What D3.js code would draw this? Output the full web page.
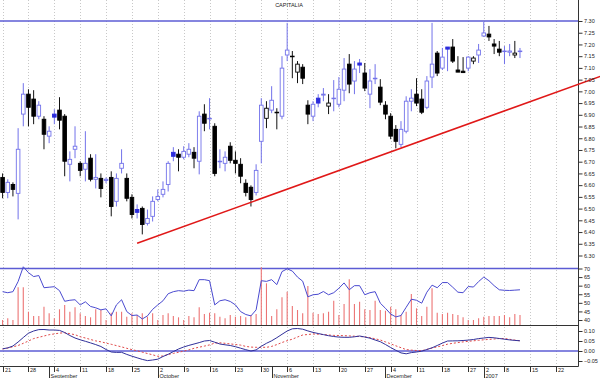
<!DOCTYPE html>
<html>
<head>
<meta charset="utf-8">
<script src="https://cdn.jsdelivr.net/npm/d3@7"></script>
<style>
  body { margin: 0; background: #fff; }
  svg { display: block; font-family: "Liberation Sans", Arial, sans-serif; }
</style>
</head>
<body>
<div id="chart"></div>
<script>
// CAPITALIA daily candles, 21 Aug 2006 - 11 Jan 2007
const open = [6.633,6.569,6.603,6.565,6.903,6.988,6.967,6.894,6.881,6.809,6.903,6.920,6.894,6.689,6.753,6.693,6.668,6.715,6.625,6.629,6.620,6.633,6.531,6.672,6.629,6.548,6.496,6.501,6.437,6.467,6.539,6.561,6.603,6.740,6.732,6.719,6.732,6.740,6.702,6.903,6.885,6.851,6.702,6.693,6.766,6.706,6.689,6.608,6.591,6.569,6.787,6.885,6.920,6.911,6.894,7.155,7.150,7.082,7.103,6.941,6.894,6.971,6.984,6.937,6.971,6.945,7.005,7.116,7.044,7.121,7.078,6.988,7.056,7.018,6.941,6.894,6.838,6.774,6.830,6.958,6.988,6.967,6.932,7.061,7.163,7.099,7.189,7.189,7.091,7.086,7.099,7.129,7.155,7.236,7.244,7.202,7.180,7.172,7.167,7.155,7.172];
const high = [6.650,6.625,6.612,6.843,7.035,7.009,7.005,6.958,6.894,6.851,6.924,6.975,6.903,6.744,6.851,6.702,6.830,6.732,6.732,6.650,6.633,6.659,6.650,6.753,6.650,6.561,6.518,6.509,6.496,6.552,6.582,6.616,6.702,6.762,6.753,6.766,6.779,6.762,6.915,6.945,6.971,6.864,6.753,6.744,6.783,6.744,6.715,6.625,6.599,6.689,6.971,6.958,7.022,6.928,7.150,7.292,7.172,7.129,7.116,6.962,6.958,6.988,7.014,6.988,7.048,7.061,7.142,7.159,7.129,7.138,7.121,7.095,7.116,7.052,6.958,6.907,6.856,6.873,6.979,7.009,7.056,7.009,7.065,7.292,7.172,7.185,7.189,7.223,7.150,7.146,7.150,7.150,7.202,7.296,7.279,7.223,7.215,7.193,7.202,7.215,7.185];
const low = [6.544,6.544,6.552,6.454,6.851,6.851,6.860,6.881,6.753,6.779,6.860,6.838,6.638,6.616,6.715,6.638,6.616,6.616,6.586,6.548,6.608,6.467,6.509,6.650,6.531,6.458,6.458,6.390,6.428,6.445,6.531,6.548,6.573,6.702,6.659,6.710,6.719,6.672,6.646,6.830,6.838,6.638,6.672,6.659,6.693,6.650,6.608,6.552,6.509,6.556,6.693,6.843,6.907,6.838,6.881,7.129,7.056,7.035,7.031,6.860,6.873,6.932,6.958,6.903,6.915,6.932,6.958,6.992,6.988,7.078,7.001,6.928,7.031,6.941,6.881,6.796,6.757,6.762,6.821,6.915,6.937,6.903,6.924,7.014,7.065,7.091,7.086,7.121,7.082,7.078,7.086,7.116,7.121,7.232,7.215,7.159,7.150,7.116,7.150,7.142,7.142];
const close = [6.569,6.612,6.582,6.753,6.988,6.932,6.894,6.941,6.817,6.830,6.890,6.877,6.702,6.710,6.766,6.663,6.693,6.625,6.633,6.586,6.625,6.509,6.629,6.693,6.544,6.475,6.484,6.432,6.458,6.531,6.552,6.582,6.693,6.723,6.719,6.744,6.753,6.715,6.894,6.864,6.885,6.650,6.702,6.719,6.706,6.693,6.638,6.569,6.539,6.663,6.941,6.928,6.962,6.911,7.099,7.176,7.150,7.116,7.056,6.903,6.945,6.950,6.988,6.950,6.971,7.009,7.095,7.031,7.095,7.112,7.014,7.044,7.056,6.954,6.903,6.809,6.787,6.838,6.958,6.971,6.950,6.911,7.044,7.116,7.078,7.146,7.180,7.129,7.082,7.080,7.146,7.142,7.176,7.249,7.232,7.193,7.167,7.172,7.172,7.163,7.172];
// volume, millions of shares
const volume = [5,6.7,5,37.7,37.7,13.3,9,9,18.3,11.7,6.7,15.7,20,13.3,17.7,11.7,9,7.7,15.7,15,5,12.3,13.3,13.3,8.3,11.7,10,11.7,8.3,11.7,5,10,11.7,9,7.7,5,9,7.7,17.7,11,12.3,11.7,8.3,6.7,10,8.3,9,7.7,10,11,57.7,41.7,9,15.7,27.7,33.3,19,15,11.7,39,12.3,11,11.7,13.3,24.3,10,21,45.7,21,23.3,15.7,15,24.3,15,14.3,18.3,15.7,10,13.3,31,16.7,9,18.3,36.7,12.3,11,12.3,11,10,7.7,5,5,6.7,8.3,9,9,9,10,7.7,11,10];
const rsi = [56.5,55.9,56.5,62.4,71.0,67.6,65.3,65.9,58.8,59.1,59.4,57.1,50.9,51.5,51.8,48.8,50.6,47.9,47.1,45.9,46.5,42.4,48.8,51.8,44.9,42.6,42.9,40.6,42.4,46.2,48.8,51.2,55.3,56.5,57.1,56.8,57.4,57.1,63.5,63.5,62.9,48.8,51.2,51.8,50.8,48.8,44.9,43.2,42.4,45.9,62.9,62.5,63.5,60.6,68.2,69.8,68.5,65.0,62.6,53.5,54.7,55.0,56.6,54.7,55.9,58.5,61.6,57.6,60.0,60.0,54.7,55.9,56.5,49.8,46.8,43.5,41.8,42.6,47.4,52.1,51.5,49.8,56.2,60.3,58.8,61.8,61.8,59.1,56.2,55.9,59.5,59.2,62.4,65.0,62.9,60.0,57.6,57.3,57.2,57.4,57.6];
const macd = [0.011,0.0155,0.025,0.045,0.0675,0.089,0.100,0.107,0.1075,0.105,0.105,0.103,0.0925,0.0775,0.065,0.056,0.0485,0.0405,0.032,0.0225,0.0075,-0.005,-0.007,-0.0065,-0.017,-0.026,-0.034,-0.042,-0.048,-0.045,-0.041,-0.0275,-0.0165,-0.003,0.010,0.020,0.028,0.035,0.042,0.050,0.0525,0.044,0.035,0.031,0.0275,0.0215,0.014,0.0065,0,0.0055,0.0235,0.0385,0.051,0.0665,0.0835,0.100,0.111,0.1125,0.109,0.1005,0.093,0.0875,0.082,0.0765,0.0725,0.0695,0.0685,0.0685,0.071,0.075,0.070,0.064,0.055,0.0465,0.0325,0.0175,0.0035,-0.0095,-0.014,-0.008,-0.005,-0.001,0.0075,0.016,0.0275,0.0395,0.050,0.0505,0.051,0.0525,0.0545,0.0575,0.062,0.065,0.068,0.066,0.0625,0.059,0.0555,0.053,0.051];
const signal = [0.010,0.015,0.021,0.0275,0.0385,0.050,0.062,0.0685,0.075,0.0815,0.0855,0.0895,0.091,0.0865,0.0815,0.0715,0.065,0.0575,0.0505,0.046,0.0395,0.0335,0.027,0.0205,0.0135,0.007,0.001,-0.006,-0.0125,-0.019,-0.0265,-0.025,-0.0175,-0.012,-0.0065,-0.0005,0.0055,0.0135,0.019,0.0245,0.0305,0.0395,0.041,0.0385,0.0355,0.0325,0.0295,0.023,0.0195,0.0185,0.0185,0.0185,0.023,0.032,0.0425,0.0515,0.059,0.070,0.080,0.0825,0.085,0.084,0.082,0.080,0.078,0.0775,0.0765,0.0755,0.074,0.0725,0.0705,0.067,0.061,0.055,0.0455,0.036,0.026,0.0165,0.007,0.0045,0.0025,0.0015,0.008,0.015,0.0205,0.027,0.034,0.0385,0.042,0.0455,0.0485,0.051,0.0535,0.056,0.058,0.060,0.0625,0.0625,0.0585,0.0545,0.051];

// support trendline: [day index, price]
const trendStart = [26, 6.352];
const trendEnd = [115.5, 7.064];
const resistance = 7.30;
const rsiLevel = 70;
const macdLevel = 0;

const holidays = ["2006-12-25", "2006-12-26", "2007-01-01"];
const monthNames = ["January","February","March","April","May","June","July","August","September","October","November","December"];

const width = 600, height = 378;
const plotRight = 578.5;
const fmtDay = d3.timeFormat("%Y-%m-%d");

// trading days through the right edge of the plot
const days = d3.timeDay.range(new Date(2006, 7, 21), new Date(2007, 0, 27))
  .filter(d => d.getDay() % 6 !== 0 && !holidays.includes(fmtDay(d)));

const x = d3.scaleLinear().domain([-0.5, days.length - 0.5]).range([0, 579.5]);
const yPrice = d3.scaleLinear().domain([6.30, 7.30]).range([255.5, 21]);
const yRsi = d3.scaleLinear().domain([40, 70]).range([320, 268.5]);
const yVol = d3.scaleLinear().domain([0, 58]).range([325, 267]);
const yMacd = d3.scaleLinear().domain([-0.05, 0.10]).range([361, 331]);

const blue = "#7272ea", blueFill = "#2c2cdc", levelBlue = "#5c5cd4";

const svg = d3.select("#chart").append("svg")
  .attr("width", width).attr("height", height);

// week / month boundaries
const weekStarts = days.map((d, i) => i).filter(i => i === 0 || +d3.timeMonday.floor(days[i]) !== +d3.timeMonday.floor(days[i - 1]));
const monthStarts = days.map((d, i) => i).filter(i => i > 0 && days[i].getMonth() !== days[i - 1].getMonth());

// dotted vertical grid
svg.append("g").selectAll("line").data(weekStarts).join("line")
  .attr("x1", i => Math.round(x(i)) + 0.5).attr("x2", i => Math.round(x(i)) + 0.5)
  .attr("y1", 0).attr("y2", 366)
  .attr("stroke", "#c8c8c8").attr("stroke-width", 1).attr("stroke-dasharray", "1,2");

// level lines
const levels = [yPrice(resistance), yRsi(rsiLevel), yMacd(macdLevel)];
svg.append("g").selectAll("line").data(levels).join("line")
  .attr("x1", 0).attr("x2", plotRight).attr("y1", d => d).attr("y2", d => d)
  .attr("stroke", levelBlue).attr("stroke-width", 1.5);

// panel separators
svg.append("line").attr("x1", 0).attr("x2", plotRight).attr("y1", 325.5).attr("y2", 325.5)
  .attr("stroke", "#333").attr("stroke-width", 1);
svg.append("line").attr("x1", 0).attr("x2", plotRight).attr("y1", 366.5).attr("y2", 366.5)
  .attr("stroke", "#333").attr("stroke-width", 1);
svg.append("line").attr("x1", plotRight).attr("x2", plotRight).attr("y1", 0).attr("y2", 366.5)
  .attr("stroke", "#333").attr("stroke-width", 1);

// title
svg.append("text").attr("x", 289).attr("y", 7).attr("text-anchor", "middle")
  .attr("font-size", 5.5).attr("fill", "#222").text("CAPITALIA");

// volume bars
svg.append("g").selectAll("line").data(volume).join("line")
  .attr("x1", (d, i) => x(i)).attr("x2", (d, i) => x(i))
  .attr("y1", yVol(0)).attr("y2", d => yVol(d))
  .attr("stroke", "#ec7474").attr("stroke-width", 1.1);

// candles
const candles = open.map((o, i) => ({
  i, o, h: high[i], l: low[i], c: close[i],
  up: i === 0 ? close[i] >= o : close[i] >= close[i - 1]
}));
const bodyW = 3.6;
const cg = svg.append("g").selectAll("g").data(candles).join("g");
cg.append("line")
  .attr("x1", d => x(d.i)).attr("x2", d => x(d.i))
  .attr("y1", d => yPrice(d.h)).attr("y2", d => yPrice(d.l))
  .attr("stroke", d => d.up ? blue : "#111").attr("stroke-width", 1);
cg.append("rect")
  .attr("x", d => x(d.i) - bodyW / 2)
  .attr("width", bodyW)
  .attr("y", d => yPrice(Math.max(d.o, d.c)))
  .attr("height", d => Math.max(0.6, Math.abs(yPrice(d.o) - yPrice(d.c))))
  .attr("fill", d => d.c < d.o ? (d.up ? blueFill : "#000") : "#fff")
  .attr("stroke", d => d.up ? (d.c < d.o ? blueFill : blue) : "#000")
  .attr("stroke-width", 0.9);

// support trendline
svg.append("line")
  .attr("x1", x(trendStart[0])).attr("y1", yPrice(trendStart[1]))
  .attr("x2", x(trendEnd[0])).attr("y2", yPrice(trendEnd[1]))
  .attr("stroke", "#e01818").attr("stroke-width", 1.5);

// RSI
svg.append("path").datum(rsi)
  .attr("d", d3.line().x((d, i) => x(i)).y(d => yRsi(d)))
  .attr("fill", "none").attr("stroke", "#4a4ad0").attr("stroke-width", 1);

// MACD + signal
svg.append("path").datum(signal)
  .attr("d", d3.line().x((d, i) => x(i)).y(d => yMacd(d)))
  .attr("fill", "none").attr("stroke", "#e04848").attr("stroke-width", 1).attr("stroke-dasharray", "2,2");
svg.append("path").datum(macd)
  .attr("d", d3.line().x((d, i) => x(i)).y(d => yMacd(d)))
  .attr("fill", "none").attr("stroke", "#30309a").attr("stroke-width", 1);

// right axes
function rightAxis(scale, major, minor, fmt) {
  const g = svg.append("g").attr("transform", `translate(${plotRight},0)`);
  g.call(d3.axisRight(scale).tickValues(minor).tickSize(2).tickFormat(""));
  g.call(d3.axisRight(scale).tickValues(major).tickSize(4).tickPadding(1.5).tickFormat(fmt));
  g.selectAll(".domain").remove();
  g.selectAll("line").attr("stroke", "#333");
  g.selectAll("text").attr("font-size", 5.5).attr("fill", "#222").attr("font-family", "Liberation Sans, Arial, sans-serif");
}
rightAxis(yPrice, d3.range(0, 21).map(k => 6.30 + k * 0.05), d3.range(0, 101).map(k => 6.30 + k * 0.01), d3.format(".2f"));
rightAxis(yRsi, [40, 45, 50, 55, 60, 65, 70], d3.range(37, 73), d3.format("d"));
rightAxis(yMacd, [-0.05, 0, 0.05, 0.10], d3.range(-6, 12).map(k => k * 0.01), d3.format(".2f"));

// date axis
const ax = svg.append("g");
ax.selectAll("line.wk").data(weekStarts).join("line").attr("class", "wk")
  .attr("x1", i => Math.round(x(i)) + 0.5).attr("x2", i => Math.round(x(i)) + 0.5)
  .attr("y1", 366.5).attr("y2", 372)
  .attr("stroke", "#333");
ax.selectAll("text.wk").data(weekStarts).join("text").attr("class", "wk")
  .attr("x", i => Math.round(x(i)) + 2).attr("y", 371.5)
  .attr("font-size", 5.5).attr("fill", "#222")
  .text(i => days[i].getDate());
ax.selectAll("line.mo").data(monthStarts).join("line").attr("class", "mo")
  .attr("x1", i => Math.round(x(i)) + 0.5).attr("x2", i => Math.round(x(i)) + 0.5)
  .attr("y1", 366.5).attr("y2", 378)
  .attr("stroke", "#333");
ax.selectAll("text.mo").data(monthStarts).join("text").attr("class", "mo")
  .attr("x", i => Math.round(x(i)) + 1.5).attr("y", 377.5)
  .attr("font-size", 5.5).attr("fill", "#222")
  .text(i => days[i].getMonth() === 0 ? days[i].getFullYear() : monthNames[days[i].getMonth()]);
</script>
</body>
</html>
